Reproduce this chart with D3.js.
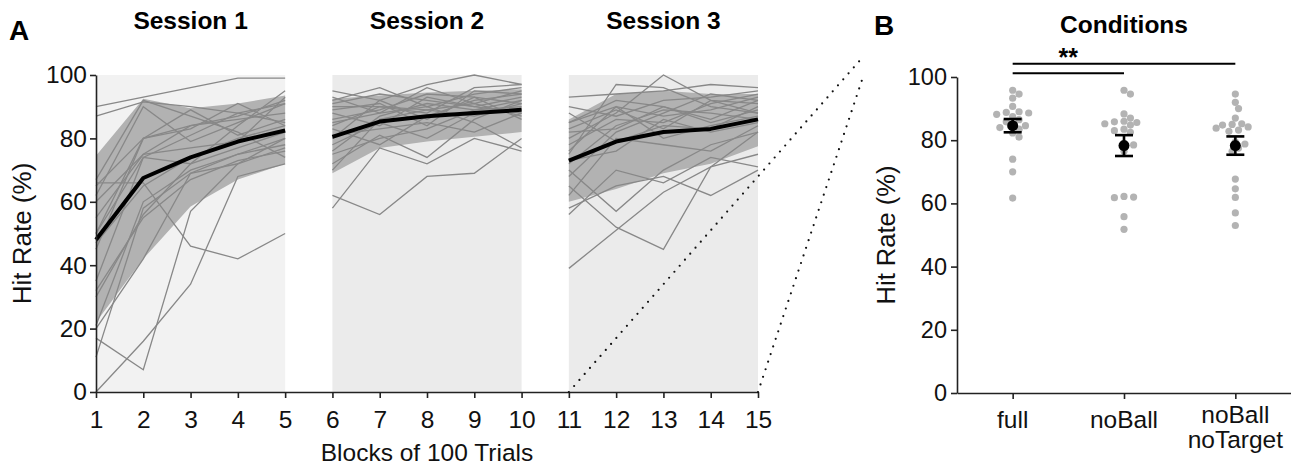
<!DOCTYPE html>
<html>
<head>
<meta charset="utf-8">
<script src="https://cdn.jsdelivr.net/npm/d3@7/dist/d3.min.js"></script>
<style>
  html, body { margin: 0; padding: 0; background: #fff; }
  svg { display: block; font-family: "Liberation Sans", Arial, Helvetica, sans-serif; }
</style>
</head>
<body>
<svg id="chart" width="1291" height="467"></svg>
<script>
// ---------- Panel A: learning curves ----------
const blockTicks = [1, 2, 3, 4, 5, 6, 7, 8, 9, 10, 11, 12, 13, 14, 15];
const hitTicks = [0, 20, 40, 60, 80, 100];
const sessionNames = ["Session 1", "Session 2", "Session 3"];
const sessionBlocks = [[1, 2, 3, 4, 5], [6, 7, 8, 9, 10], [11, 12, 13, 14, 15]];

// group mean hit rate per block
const meanHit = [48, 67.5, 74, 79, 82.5, 80.5, 85.3, 87, 88, 89, 73, 79, 82, 83, 86];
// spread band (lower / upper edge) per block
const bandLow = [22, 42, 58.5, 67, 72, 69, 77, 79, 80.5, 82, 60, 64, 69, 72, 77.5];
const bandHigh = [74.5, 92.5, 89.5, 91, 93.5, 92.5, 93.5, 94.5, 95, 95.5, 86, 94, 95, 94, 94];

// individual subjects, one value per block (blocks 1-15)
const subjectHit = [
  [90, 93, 96, 99, 99,   95, 92, 97, 100, 97,  93, 94, 95, 97, 96],
  [87, 91.5, 90, 88, 85, 92, 96, 90, 94, 96,   75, 97, 96, 90, 88],
  [67, 92, 87, 82, 74,   93, 88, 96, 91, 95,   80, 88, 100, 92, 91],
  [62, 90, 79, 85, 91,   90, 90, 88, 96, 97,   39, 51, 63, 71, 75],
  [66, 66, 46, 42, 50,   62, 56, 68, 69, 80,   65, 52, 45, 71, 82],
  [0, 16, 34, 68, 72,    58, 77, 72, 80, 76,   70, 57, 70, 78, 82],
  [17, 7, 57, 72, 80,    72, 81, 74, 86, 92,   58, 65, 68, 62, 70],
  [11, 58, 69, 72, 77,   75, 80, 83, 89, 90,   56, 70, 66, 74, 71],
  [20, 42, 69, 75, 78,   85, 88, 90, 85, 77,   85, 90, 87, 89, 93],
  [30, 56, 72, 77, 82,   88, 84, 93, 90, 88,   82, 83, 90, 86, 92],
  [35, 74, 81, 88, 91,   80, 92, 86, 93, 91,   78, 86, 85, 91, 94],
  [45, 80, 84, 87, 92,   70, 86, 89, 87, 91,   88, 79, 84, 83, 90],
  [50, 80, 83, 91, 84,   83, 78, 87, 92, 94,   72, 84, 89, 88, 86],
  [55, 75, 77, 79, 93,   91, 94, 92, 90, 93,   68, 82, 88, 94, 92],
  [60, 75, 84, 86, 88,   78, 85, 80, 88, 89,   85, 92, 90, 85, 89],
  [47, 65, 74, 80, 84,   86, 89, 94, 93, 86,   76, 90, 80, 84, 87],
  [32, 55, 67, 73, 76,   81, 83, 85, 82, 88,   90, 87, 92, 93, 95],
  [65, 80, 89, 81, 86,   89, 91, 84, 95, 94,   73, 76, 86, 82, 85],
  [21, 60, 70, 75, 80,   76, 87, 91, 89, 92,   83, 89, 83, 92, 88],
  [50, 74, 72, 84, 95,   84, 90, 89, 91, 87,   62, 80, 78, 76, 84]
];

// ---------- Panel B: conditions ----------
const conditionNames = ["full", "noBall", "noBall noTarget"];
const conditionLabelLines = [["full"], ["noBall"], ["noBall", "noTarget"]];
const fullHit = [95.8, 94.6, 93.3, 90.7, 89.0, 88.8, 88.6, 88.2, 87.5, 86.5,
                 85.8, 85.0, 84.6, 84.0, 83.5, 82.3, 81.0, 74.0, 70.0, 61.7];
const noBallHit = [95.8, 94.6, 88.3, 87.0, 86.0, 85.8, 85.6, 85.2, 84.8, 83.5,
                   83.0, 82.5, 79.1, 78.5, 76.5, 62.2, 62.0, 61.8, 55.8, 51.8];
const noBallNoTargetHit = [94.6, 92.0, 90.0, 87.0, 85.2, 85.0, 84.8, 84.2, 83.8, 83.2,
                           82.8, 79.5, 78.8, 77.5, 76.5, 67.7, 64.6, 61.9, 57.0, 53.0];
const conditionMean = [84.6, 78.3, 78.3];
const conditionSem = [2.1, 3.3, 2.9];
const sigPairs = [[0, 1], [0, 2]];
const sigLabel = "**";

const FONT = '"Liberation Sans", Arial, Helvetica, sans-serif';
const svg = d3.select("#chart");

// ===== Panel A =====
const x = d3.scaleLinear().domain([1, 15]).range([96, 758]);
const y = d3.scaleLinear().domain([0, 100]).range([392, 75]);

const gA = svg.append("g");

// session backgrounds
gA.selectAll("rect.session")
  .data(sessionBlocks)
  .join("rect")
  .attr("class", "session")
  .attr("x", d => x(d[0]))
  .attr("y", y(100))
  .attr("width", d => x(d[d.length - 1]) - x(d[0]))
  .attr("height", y(0) - y(100))
  .attr("fill", (d, i) => i === 0 ? "#f2f2f2" : "#ebebeb");

// spread band per session
const band = d3.area()
  .x(d => x(d))
  .y0(d => y(bandLow[d - 1]))
  .y1(d => y(bandHigh[d - 1]));
gA.selectAll("path.band")
  .data(sessionBlocks)
  .join("path")
  .attr("class", "band")
  .attr("d", band)
  .attr("fill", "#b2b2b2");

// individual subject lines
const line = d3.line().x(d => x(d[0])).y(d => y(d[1]));
subjectHit.forEach(subj => {
  sessionBlocks.forEach(blocks => {
    gA.append("path")
      .attr("d", line(blocks.map(b => [b, subj[b - 1]])))
      .attr("fill", "none")
      .attr("stroke", "#888")
      .attr("stroke-width", 1.3);
  });
});

// mean line
gA.selectAll("path.mean")
  .data(sessionBlocks)
  .join("path")
  .attr("class", "mean")
  .attr("d", blocks => line(blocks.map(b => [b, meanHit[b - 1]])))
  .attr("fill", "none")
  .attr("stroke", "#000")
  .attr("stroke-width", 4)
  .attr("stroke-linejoin", "round");

// axes
const axisA_y = gA.append("g")
  .attr("transform", `translate(${x(1)},0)`)
  .call(d3.axisLeft(y).tickValues(hitTicks).tickSize(6).tickSizeOuter(0).tickPadding(3));
const axisA_x = gA.append("g")
  .attr("transform", `translate(0,${y(0)})`)
  .call(d3.axisBottom(x).tickValues(blockTicks).tickSize(6).tickSizeOuter(0).tickPadding(13));

[axisA_y, axisA_x].forEach(g => {
  g.select(".domain").attr("stroke", "#222").attr("stroke-width", 1.6);
  g.selectAll(".tick line").attr("stroke", "#222").attr("stroke-width", 1.6);
  g.selectAll(".tick text").attr("fill", "#111").style("font-size", "24.5px").style("font-family", FONT);
});

// session titles
gA.selectAll("text.stitle")
  .data(sessionBlocks)
  .join("text")
  .attr("class", "stitle")
  .attr("x", d => x(d[2]))
  .attr("y", 29)
  .attr("text-anchor", "middle")
  .style("font-size", "24.5px")
  .style("font-weight", "bold")
  .style("font-family", FONT)
  .text((d, i) => sessionNames[i]);

// axis labels
gA.append("text")
  .attr("transform", `translate(31,${(y(0) + y(100)) / 2}) rotate(-90)`)
  .attr("text-anchor", "middle")
  .style("font-size", "26px")
  .style("font-family", FONT)
  .attr("fill", "#111")
  .text("Hit Rate (%)");
gA.append("text")
  .attr("x", x(8))
  .attr("y", 461)
  .attr("text-anchor", "middle")
  .style("font-size", "24.5px")
  .style("font-family", FONT)
  .attr("fill", "#111")
  .text("Blocks of 100 Trials");

// panel letter
svg.append("text")
  .attr("x", 9).attr("y", 40)
  .style("font-size", "28px").style("font-weight", "bold").style("font-family", FONT)
  .text("A");

// ===== Panel B =====
const xB = d3.scalePoint().domain(conditionNames).range([957, 1291]).padding(0.5);
const yB = d3.scaleLinear().domain([0, 100]).range([393, 77]);

const gB = svg.append("g");

// dotted connectors from Session 3 towards panel B
const connectors = [
  [[x(11), y(0)], [862, 58]],
  [[x(15), y(0)], [862, 80]]
];
gB.selectAll("line.conn")
  .data(connectors)
  .join("line")
  .attr("class", "conn")
  .attr("x1", d => d[0][0]).attr("y1", d => d[0][1])
  .attr("x2", d => d[1][0]).attr("y2", d => d[1][1])
  .attr("stroke", "#111")
  .attr("stroke-width", 2.2)
  .attr("stroke-linecap", "round")
  .attr("stroke-dasharray", "0,8");

// axes
const axisB_y = gB.append("g")
  .attr("transform", `translate(957,0)`)
  .call(d3.axisLeft(yB).tickValues(hitTicks).tickSize(6).tickSizeOuter(0).tickPadding(4));
const axisB_x = gB.append("g")
  .attr("transform", `translate(0,${yB(0)})`)
  .call(d3.axisBottom(xB).tickSize(6).tickSizeOuter(0).tickFormat(""));
[axisB_y, axisB_x].forEach(g => {
  g.select(".domain").attr("stroke", "#222").attr("stroke-width", 1.6);
  g.selectAll(".tick line").attr("stroke", "#222").attr("stroke-width", 1.6);
  g.selectAll(".tick text").attr("fill", "#111").style("font-size", "23.5px").style("font-family", FONT);
});

// category labels (multi-line)
conditionNames.forEach((c, i) => {
  const t = gB.append("text")
    .attr("text-anchor", "middle")
    .style("font-size", "24.5px")
    .style("font-family", FONT)
    .attr("fill", "#111");
  const lines = conditionLabelLines[i];
  const base = lines.length > 1 ? 423 : 428;
  lines.forEach((s, k) => {
    t.append("tspan").attr("x", xB(c)).attr("y", base + k * 25).text(s);
  });
});

gB.append("text")
  .attr("transform", `translate(895,${(yB(0) + yB(100)) / 2}) rotate(-90)`)
  .attr("text-anchor", "middle")
  .style("font-size", "25.5px")
  .style("font-family", FONT)
  .attr("fill", "#111")
  .text("Hit Rate (%)");

// individual points, packed side by side
const pointR = 3.6;
const conditionHit = [fullHit, noBallHit, noBallNoTargetHit];
conditionHit.forEach((vals, i) => {
  const cx = xB(conditionNames[i]);
  const placed = [];
  vals.slice().sort((a, b) => b - a).forEach(v => {
    const py = yB(v);
    let off = 0;
    for (let k = 0; k < 40; k++) {
      const cand = k === 0 ? 0 : (k % 2 ? 1 : -1) * Math.ceil(k / 2) * 3.2;
      const ok = placed.every(p => Math.hypot(p[0] - cand, p[1] - py) >= pointR * 1.9);
      if (ok) { off = cand; break; }
    }
    placed.push([off, py]);
  });
  gB.selectAll(null)
    .data(placed)
    .join("circle")
    .attr("cx", d => cx + d[0])
    .attr("cy", d => d[1])
    .attr("r", pointR)
    .attr("fill", "#b3b3b3");
});

// mean ± error
conditionNames.forEach((c, i) => {
  const cx = xB(c);
  const m = conditionMean[i], e = conditionSem[i];
  const g = gB.append("g").attr("stroke", "#000").attr("stroke-width", 2.6);
  g.append("line").attr("x1", cx).attr("x2", cx).attr("y1", yB(m - e)).attr("y2", yB(m + e));
  g.append("line").attr("x1", cx - 9).attr("x2", cx + 9).attr("y1", yB(m - e)).attr("y2", yB(m - e));
  g.append("line").attr("x1", cx - 9).attr("x2", cx + 9).attr("y1", yB(m + e)).attr("y2", yB(m + e));
  gB.append("circle").attr("cx", cx).attr("cy", yB(m)).attr("r", 5.5).attr("fill", "#000");
});

// significance brackets
const sigLevels = [101.2, 104.2];
sigPairs.forEach((p, i) => {
  gB.append("line")
    .attr("x1", xB(conditionNames[p[0]]))
    .attr("x2", xB(conditionNames[p[1]]))
    .attr("y1", yB(sigLevels[i]))
    .attr("y2", yB(sigLevels[i]))
    .attr("stroke", "#000")
    .attr("stroke-width", 2);
});
gB.append("text")
  .attr("x", (xB(conditionNames[0]) + xB(conditionNames[1])) / 2)
  .attr("y", yB(sigLevels[1]) + 2)
  .attr("text-anchor", "middle")
  .style("font-size", "25px")
  .style("font-weight", "bold")
  .style("font-family", FONT)
  .text(sigLabel);

// title and panel letter
gB.append("text")
  .attr("x", xB(conditionNames[1]))
  .attr("y", 33)
  .attr("text-anchor", "middle")
  .style("font-size", "24.5px")
  .style("font-weight", "bold")
  .style("font-family", FONT)
  .text("Conditions");
svg.append("text")
  .attr("x", 874).attr("y", 35)
  .style("font-size", "28px").style("font-weight", "bold").style("font-family", FONT)
  .text("B");
</script>
</body>
</html>
